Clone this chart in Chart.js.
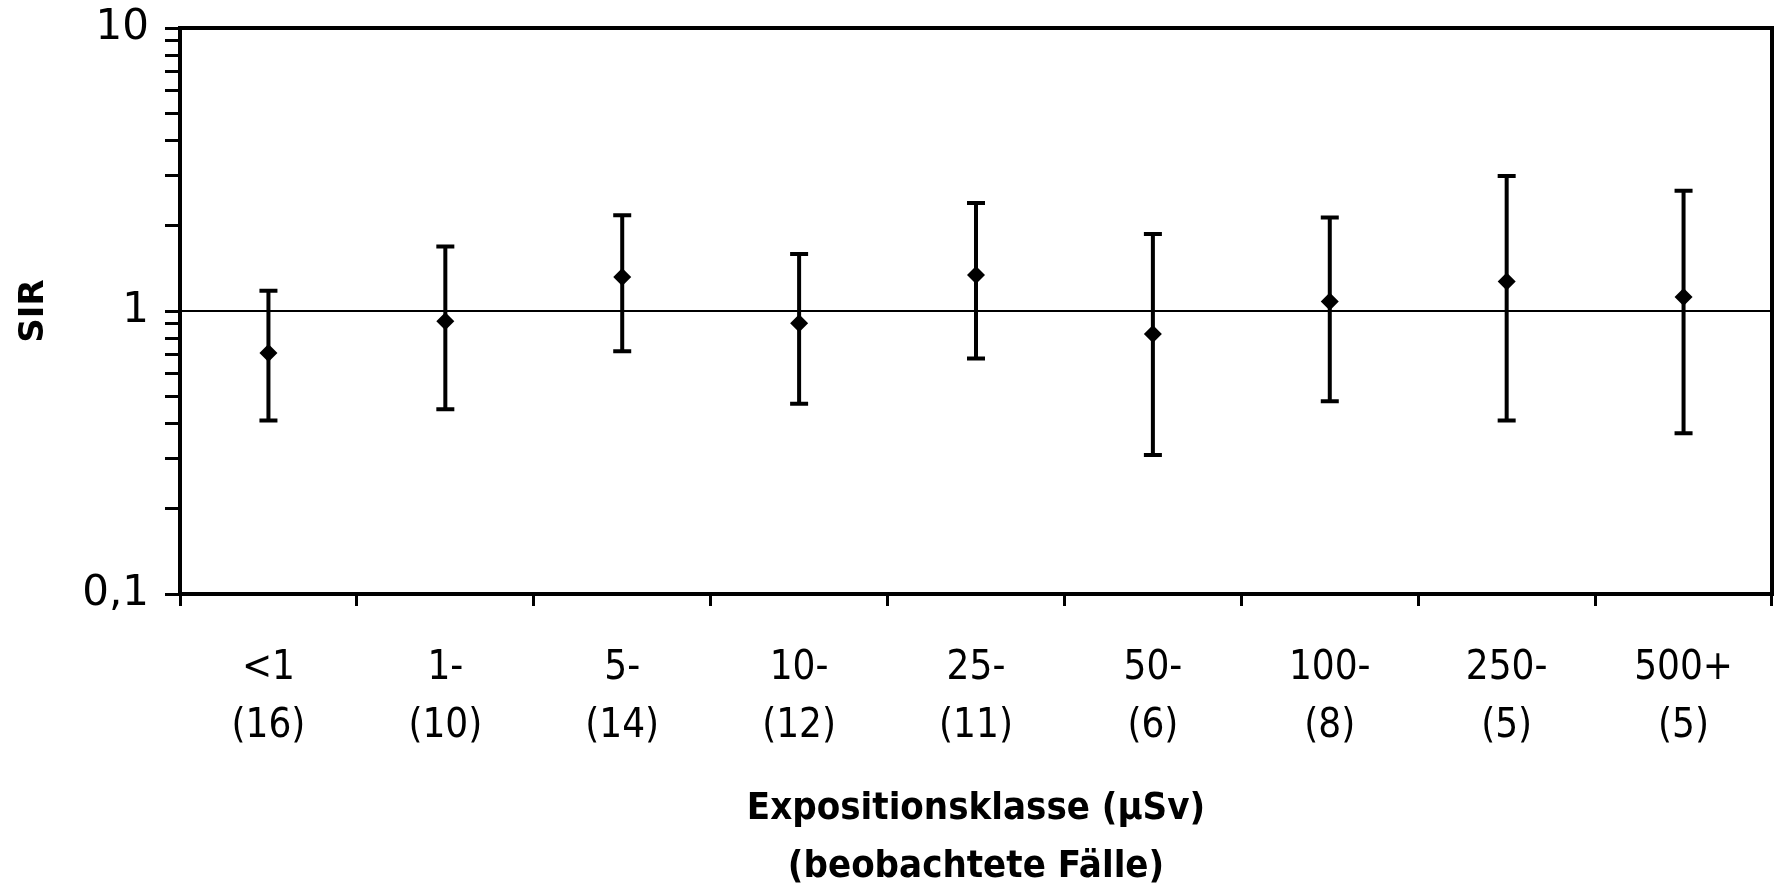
<!DOCTYPE html>
<html>
<head>
<meta charset="utf-8">
<script src="https://cdn.jsdelivr.net/npm/chart.js@4/dist/chart.umd.min.js"></script>
<style>
  html, body { margin: 0; padding: 0; background: #fff; }
  #wrap { width: 1777px; height: 885px; }
</style>
</head>
<body>
<div id="wrap"><canvas id="myChart"></canvas></div>
<script>
/* SIR by exposure class, log scale with 95% CI */
const classes = ['<1', '1-', '5-', '10-', '25-', '50-', '100-', '250-', '500+'];
const cases = [16, 10, 14, 12, 11, 6, 8, 5, 5];
const sir = [0.71, 0.92, 1.32, 0.905, 1.34, 0.83, 1.08, 1.27, 1.12];
const ciLow = [0.41, 0.45, 0.72, 0.47, 0.68, 0.31, 0.48, 0.41, 0.37];
const ciHigh = [1.18, 1.69, 2.18, 1.59, 2.41, 1.87, 2.14, 3.0, 2.66];

const yTickValues = [0.1, 0.2, 0.3, 0.4, 0.5, 0.6, 0.7, 0.8, 0.9, 1, 2, 3, 4, 5, 6, 7, 8, 9, 10];
const yTickLabels = {'0.1': '0,1', '1': '1', '10': '10'};
const refValue = 1;

const labels = classes.map((c, i) => [c, `(${cases[i]})`]);

const black = '#000';

// error bars + reference line, drawn under the markers
const errorBars = {
  id: 'errorBars',
  beforeDatasetsDraw(chart) {
    const {ctx, chartArea, scales: {x, y}} = chart;
    ctx.save();
    ctx.strokeStyle = black;
    // line at SIR = 1
    const y1 = y.getPixelForValue(refValue);
    ctx.lineWidth = 2;
    ctx.beginPath();
    ctx.moveTo(chartArea.left, y1);
    ctx.lineTo(chartArea.right, y1);
    ctx.stroke();

    ctx.lineWidth = 4;
    const cap = 9;
    sir.forEach((v, i) => {
      const px = x.getPixelForValue(i);
      const top = y.getPixelForValue(ciHigh[i]);
      const bot = y.getPixelForValue(ciLow[i]);
      ctx.beginPath();
      ctx.moveTo(px, top);
      ctx.lineTo(px, bot);
      ctx.moveTo(px - cap, top);
      ctx.lineTo(px + cap, top);
      ctx.moveTo(px - cap, bot);
      ctx.lineTo(px + cap, bot);
      ctx.stroke();
    });
    ctx.restore();
  },
  afterDraw(chart) {
    // top and right frame lines
    const {ctx, chartArea} = chart;
    ctx.save();
    ctx.strokeStyle = black;
    ctx.lineWidth = 4;
    ctx.beginPath();
    ctx.moveTo(chartArea.left, chartArea.top);
    ctx.lineTo(chartArea.right, chartArea.top);
    ctx.lineTo(chartArea.right, chartArea.bottom);
    ctx.stroke();
    ctx.restore();
  }
};

const ctx = document.getElementById('myChart');
const myChart = new Chart(ctx, {
  type: 'line',
  plugins: [errorBars],
  data: {
    labels: labels,
    datasets: [{
      label: 'SIR',
      data: sir,
      showLine: false,
      pointStyle: 'rectRot',
      pointRadius: 9,
      pointHoverRadius: 9,
      backgroundColor: black,
      borderColor: black,
      borderWidth: 0
    }]
  },
  options: {
    responsive: true,
    maintainAspectRatio: false,
    animation: false,
    events: [],
    layout: {
      autoPadding: false,
      padding: {top: 28, right: 5, left: 0, bottom: 0}
    },
    plugins: {
      legend: {display: false},
      tooltip: {enabled: false}
    },
    scales: {
      x: {
        type: 'category',
        offset: true,
        afterFit: (scale) => {
          scale.height = 291;
          scale.paddingLeft = 0;
          scale.paddingRight = 0;
        },
        border: {color: black, width: 4},
        grid: {
          offset: true,
          drawOnChartArea: false,
          drawTicks: true,
          tickLength: 12,
          color: black,
          lineWidth: 3
        },
        ticks: {
          color: black,
          padding: 34,
          maxRotation: 0,
          autoSkip: false,
          font: {family: "'DejaVu Sans Condensed', sans-serif", size: 40, lineHeight: 1.45}
        },
        title: {
          display: true,
          text: ['Expositionsklasse (µSv)', '(beobachtete Fälle)'],
          color: black,
          padding: {top: 0, bottom: -11},
          font: {family: "'DejaVu Sans Condensed', 'DejaVu Sans', sans-serif", size: 38, weight: 'bold', lineHeight: 1.52}
        }
      },
      y: {
        type: 'logarithmic',
        min: 0.1,
        max: 10,
        afterFit: (scale) => {
          scale.width = 180;
          scale.paddingTop = 0;
          scale.paddingBottom = 0;
        },
        afterBuildTicks: (scale) => {
          scale.ticks = yTickValues.map(v => ({value: v}));
        },
        border: {color: black, width: 4},
        grid: {
          drawOnChartArea: false,
          drawTicks: true,
          tickLength: 15,
          color: black,
          lineWidth: 3
        },
        ticks: {
          color: black,
          padding: 16,
          autoSkip: false,
          font: {family: "'DejaVu Sans', sans-serif", size: 42},
          callback: (v) => yTickLabels[String(v)] || ''
        },
        title: {
          display: true,
          text: 'SIR',
          color: black,
          padding: {top: 14, bottom: 0},
          font: {family: "'DejaVu Sans', sans-serif", size: 34, weight: 'bold', lineHeight: 1.2}
        }
      }
    }
  }
});
</script>
</body>
</html>
